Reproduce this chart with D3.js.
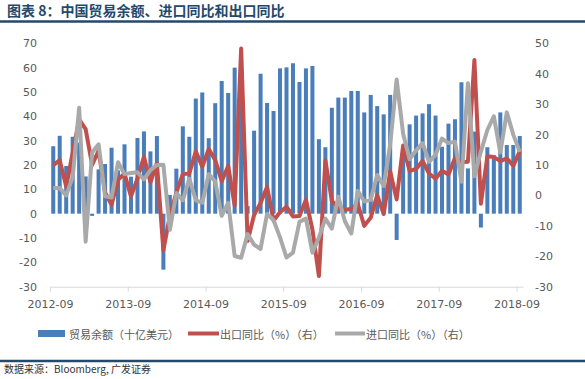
<!DOCTYPE html>
<html>
<head>
<meta charset="utf-8">
<script src="https://cdn.jsdelivr.net/npm/d3@7"></script>
<style>
  body { margin: 0; background: #fff; }
  svg { display: block; }
</style>
</head>
<body>
<div id="chart"></div>
<script>
// months 2012-09 .. 2018-09
const months = d3.timeMonths(new Date(2012, 8, 1), new Date(2018, 9, 1)).map(d3.timeFormat("%Y-%m"));
const tickLabels = ["2012-09", "2013-09", "2014-09", "2015-09", "2016-09", "2017-09", "2018-09"];

// trade balance, USD bn (left)
const balance = [27.7, 32.0, 19.6, 31.6, 29.2, 15.3, -0.9, 18.2, 20.4, 27.1, 17.8, 28.5,
  15.2, 31.1, 33.8, 25.6, 31.9, -23.0, 7.7, 18.5, 35.9, 31.6, 47.3, 49.8,
  31.0, 45.4, 54.5, 49.6, 60.0, 60.6, 3.1, 34.1, 57.5, 45.5, 42.2, 59.7,
  60.1, 61.8, 54.1, 59.7, 60.7, 30.6, 27.3, 43.5, 47.7, 47.7, 50.4, 50.4,
  41.6, 48.8, 44.2, 40.8, 48.8, -10.8, 23.9, 36.7, 40.3, 41.2, 45.0, 40.3,
  27.5, 37.0, 38.8, 54.0, 18.6, 33.7, -5.7, 27.3, 24.0, 41.6, 28.2, 28.2, 31.9];

// export yoy % (right)
const exportYoy = [9.9, 11.6, 2.9, 14.1, 25.0, 21.8, 10.0, 14.7, 1.0, -3.1, 5.1, 7.2,
  -0.3, 5.6, 12.7, 4.3, 10.6, -18.1, -6.6, 0.9, 7.0, 7.2, 14.5, 9.4,
  15.3, 11.6, 4.7, 9.7, -3.3, 48.3, -15.0, -6.4, -2.5, 2.8, -8.3, -5.5,
  -3.7, -6.9, -6.8, -1.4, -11.2, -26.5, 11.5, -1.8, -4.1, -4.8, -4.4, -2.8,
  -10.0, -7.3, 0.1, -6.1, 7.9, -1.3, 16.4, 8.0, 8.7, 11.3, 7.2, 5.5,
  8.1, 6.9, 12.3, 10.9, 11.1, 44.5, -2.7, 12.9, 12.6, 11.3, 12.2, 9.8, 14.5];

// import yoy % (right)
const importYoy = [2.4, 2.4, 0.0, 6.0, 28.8, -15.2, 14.1, 16.8, -0.3, -0.7, 10.9, 7.0,
  7.4, 7.6, 5.3, 8.3, 10.0, 10.1, -11.3, 0.8, -1.6, 5.5, -1.6, -2.4,
  7.0, 4.6, -6.7, -2.4, -19.9, -20.5, -12.7, -16.2, -17.6, -6.1, -8.1, -13.8,
  -20.4, -18.8, -8.7, -7.6, -18.8, -13.8, -7.6, -10.9, -0.4, -8.4, -12.5, 1.5,
  -1.9, -1.4, 6.7, 3.1, 16.7, 38.1, 20.3, 11.9, 14.8, 17.2, 11.0, 13.3,
  18.7, 17.2, 17.7, 4.5, 36.9, 6.3, 14.4, 21.5, 26.0, 14.1, 27.3, 20.0, 14.3];

const leftTicks = [70, 60, 50, 40, 30, 20, 10, 0, -10, -20, -30];
const rightTicks = [50, 40, 30, 20, 10, 0, -10, -20, -30];

const W = 585, H = 379;
const cjk = "'Noto Sans CJK SC', sans-serif";
const num = "'DejaVu Sans', sans-serif";
const labelColor = "#595959";
const navy = "#24496b";

const svg = d3.select("#chart").append("svg").attr("width", W).attr("height", H);

// title
svg.append("text")
  .attr("x", 7).attr("y", 16)
  .attr("font-family", cjk).attr("font-size", 14).attr("font-weight", "bold")
  .attr("fill", navy)
  .text("图表 8：中国贸易余额、进口同比和出口同比");
svg.append("line").attr("x1", 0).attr("x2", W).attr("y1", 21.5).attr("y2", 21.5)
  .attr("stroke", navy).attr("stroke-width", 2.5);

const x0 = 50, x1 = 523, yTop = 43.3, yBot = 286.7;

const x = d3.scaleBand().domain(months).range([x0, x1]).paddingInner(0.38).paddingOuter(0.19);
const xIdx = d3.scaleLinear().domain([0, months.length]).range([x0, x1]);
const yL = d3.scaleLinear().domain([-30, 70]).range([yBot, yTop]);
const yR = d3.scaleLinear().domain([-30, 50]).range([yBot, yTop]);

// bars
svg.append("g").selectAll("rect")
  .data(balance)
  .join("rect")
  .attr("x", (d, i) => x(months[i]))
  .attr("width", x.bandwidth())
  .attr("y", d => yL(Math.max(0, d)))
  .attr("height", d => Math.abs(yL(d) - yL(0)))
  .attr("fill", "#4a7ebb");

// x axis
const xAxis = svg.append("g")
  .attr("transform", `translate(0,${yBot})`)
  .call(d3.axisBottom(xIdx)
    .tickValues(tickLabels.map(t => months.indexOf(t)))
    .tickFormat(i => months[i])
    .tickSizeInner(5).tickSizeOuter(0).tickPadding(9));
xAxis.select(".domain").attr("stroke", "#d9d9d9");
xAxis.selectAll(".tick line").attr("stroke", "#d9d9d9");
xAxis.selectAll("text").attr("font-family", num).attr("font-size", 11).attr("fill", labelColor);

// left axis
const lAxis = svg.append("g")
  .attr("transform", `translate(42,0)`)
  .call(d3.axisLeft(yL).tickValues(leftTicks).tickFormat(d => String(d)).tickSize(0).tickPadding(5));
lAxis.select(".domain").remove();
lAxis.selectAll("text").attr("font-family", num).attr("font-size", 11).attr("fill", labelColor);

// right axis
const rAxis = svg.append("g")
  .attr("transform", `translate(530,0)`)
  .call(d3.axisRight(yR).tickValues(rightTicks).tickFormat(d => String(d)).tickSize(0).tickPadding(5));
rAxis.select(".domain").remove();
rAxis.selectAll("text").attr("font-family", num).attr("font-size", 11).attr("fill", labelColor);

// lines
const cx = i => x(months[i]) + x.bandwidth() / 2;
const lineR = d3.line().x((d, i) => cx(i)).y(d => yR(d));

svg.append("path").datum(exportYoy)
  .attr("d", lineR).attr("fill", "none")
  .attr("stroke", "#c0504d").attr("stroke-width", 4).attr("stroke-linejoin", "round");
svg.append("path").datum(importYoy)
  .attr("d", lineR).attr("fill", "none")
  .attr("stroke", "#a9a9a9").attr("stroke-width", 4).attr("stroke-linejoin", "round");

// legend
const ly = 333.5;
const legend = svg.append("g").attr("font-family", cjk).attr("font-size", 11).attr("fill", labelColor);
legend.append("rect").attr("x", 38).attr("y", ly - 3.5).attr("width", 27).attr("height", 7).attr("fill", "#4a7ebb");
legend.append("text").attr("x", 69).attr("y", ly).attr("dominant-baseline", "central").text("贸易余额（十亿美元）");
legend.append("line").attr("x1", 188).attr("x2", 219).attr("y1", ly).attr("y2", ly).attr("stroke", "#c0504d").attr("stroke-width", 4);
legend.append("text").attr("x", 220).attr("y", ly).attr("dominant-baseline", "central").text("出口同比（%）（右）");
legend.append("line").attr("x1", 335).attr("x2", 365).attr("y1", ly).attr("y2", ly).attr("stroke", "#a9a9a9").attr("stroke-width", 4);
legend.append("text").attr("x", 366).attr("y", ly).attr("dominant-baseline", "central").text("进口同比（%）（右）");

// footer
svg.append("line").attr("x1", 0).attr("x2", W).attr("y1", 361).attr("y2", 361)
  .attr("stroke", navy).attr("stroke-width", 2.5);
svg.append("text")
  .attr("x", 4).attr("y", 373)
  .attr("font-family", cjk).attr("font-size", 10).attr("fill", "#333")
  .text("数据来源：Bloomberg, 广发证券");
</script>
</body>
</html>
